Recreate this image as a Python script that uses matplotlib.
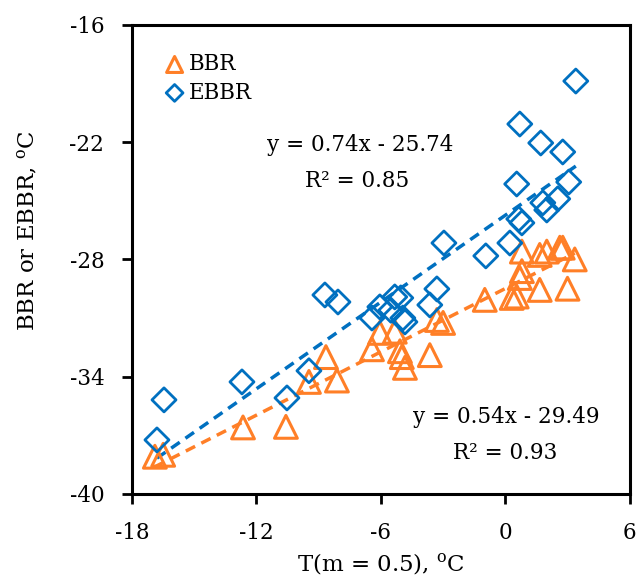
import matplotlib.pyplot as plt
import numpy as np

plt.rcParams['font.family'] = ['DejaVu Serif']
plt.rcParams['mathtext.fontset'] = 'dejavuserif'
plt.rcParams['axes.unicode_minus'] = False

# BBR 数据 (三角形)
bbr_x = [-16.9, -16.5, -12.65, -10.58, -9.47, -8.65, -8.12, -6.43, -6.05, -5.33,
         -5.08, -4.99, -4.84, -3.64, -3.3, -3.0, -0.99, 0.31, 0.55, 0.7,
         0.8, 0.8, 1.66, 1.66, 2.0, 2.63, 2.77, 3.0, 3.35]
bbr_y = [-38.1, -38.0, -36.6, -36.57, -34.27, -33.0, -34.2, -32.6, -31.76, -31.7,
         -32.7, -33.0, -33.55, -32.9, -31.1, -31.25, -30.07, -29.97, -29.9, -28.95,
         -28.6, -27.6, -29.56, -27.77, -27.6, -27.4, -27.4, -29.5, -28.0]

# EBBR 数据 (菱形)
ebbr_x = [-16.8, -16.46, -12.7, -10.53, -9.47, -8.7, -8.07, -6.43, -6.05, -5.52,
          -5.33, -5.04, -4.94, -4.84, -3.64, -3.3, -2.96, -0.94, 0.22, 0.55,
          0.65, 0.8, 0.7, 1.71, 2.77, 3.4, 3.06, 2.53, 1.81, 2.0]
ebbr_y = [-37.24, -35.19, -34.27, -35.09, -33.7, -29.82, -30.18, -31.0, -30.43, -30.6,
          -29.92, -29.97, -31.0, -31.2, -30.33, -29.51, -27.16, -27.82, -27.16, -24.14,
          -25.93, -26.13, -21.07, -22.04, -22.5, -18.87, -24.04, -24.9, -25.1, -25.47]

orange = '#FF7F27'
blue = '#0070C0'
fs = 15.5

fig = plt.figure(figsize=(6.38, 5.81), dpi=100)
ax = fig.add_axes([0.207, 0.150, 0.780, 0.807])

ax.scatter(bbr_x, bbr_y, marker='^', s=270, facecolors='none', edgecolors=orange,
           linewidths=2.2, label='BBR', zorder=3)
ax.scatter(ebbr_x, ebbr_y, marker='D', s=150, facecolors='none', edgecolors=blue,
           linewidths=2.0, label='EBBR', zorder=3)

# 趋势线
xx1 = np.array([min(bbr_x), max(bbr_x)])
ax.plot(xx1, 0.54 * xx1 - 29.49, '--', color=orange, lw=2.5, dashes=(3, 2), zorder=2)
xx2 = np.array([min(ebbr_x), max(ebbr_x)])
ax.plot(xx2, 0.74 * xx2 - 25.74, '--', color=blue, lw=2.5, dashes=(3, 2), zorder=2)

ax.text(-7.0, -22.14, 'y = 0.74x - 25.74', ha='center', va='center', fontsize=fs)
ax.text(-7.15, -23.98, 'R² = 0.85', ha='center', va='center', fontsize=fs)
ax.text(0.07, -36.06, 'y = 0.54x - 29.49', ha='center', va='center', fontsize=fs)
ax.text(0.0, -37.9, 'R² = 0.93', ha='center', va='center', fontsize=fs)

ax.set_xlim(-18, 6)
ax.set_ylim(-40, -16)
ax.set_xticks([-18, -12, -6, 0, 6])
ax.set_yticks([-40, -34, -28, -22, -16])
ax.tick_params(direction='out', length=7, width=2, labelsize=fs, pad=13)
for s in ax.spines.values():
    s.set_linewidth(2.2)
    s.set_color('black')

ax.set_xlabel(r'T(m = 0.5), $^{\rm o}$C', fontsize=16.5, labelpad=5)
ax.set_ylabel(r'BBR or EBBR, $^{\rm o}$C', fontsize=16.5)
ax.yaxis.set_label_coords(-0.185, 0.561)

leg = ax.legend(loc='upper left', frameon=False, fontsize=fs, handletextpad=0.2,
                handlelength=0.9, borderaxespad=0, borderpad=0, labelspacing=0.3,
                markerscale=0.7, bbox_to_anchor=(0.066, 0.94))

fig.savefig('out.png', dpi=100)
